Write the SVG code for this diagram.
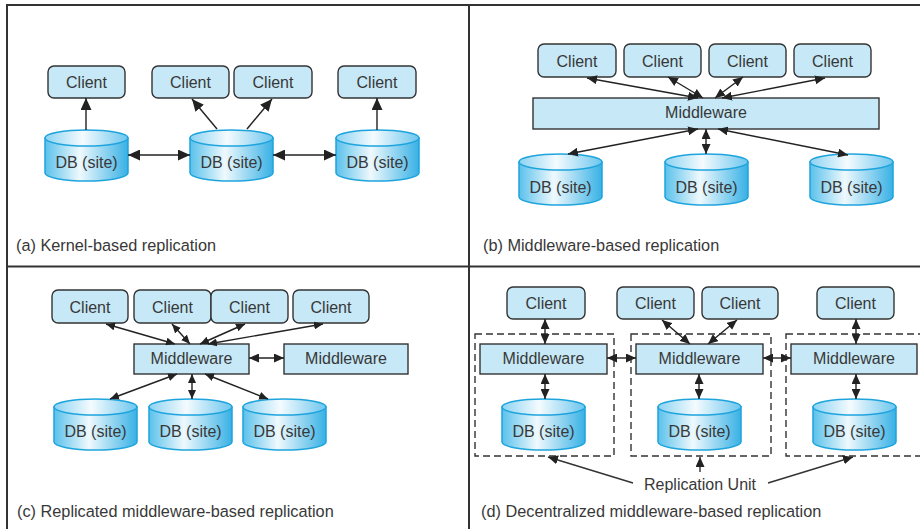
<svg xmlns="http://www.w3.org/2000/svg" xmlns:xlink="http://www.w3.org/1999/xlink" width="920" height="529" viewBox="0 0 920 529">
<style>
text{font-family:"Liberation Sans",Arial,sans-serif;font-size:16px;fill:#383838}
.cap{font-size:16.3px}
.lbl{text-anchor:middle}
.box{fill:#c6e8f7;stroke:#333;stroke-width:1.4}
.frame{stroke:#333;stroke-width:2;fill:none}
.con{stroke:#222;stroke-width:1.4;fill:none}
.dash{stroke:#333;stroke-width:1.4;fill:none;stroke-dasharray:7 4}
.ru{stroke:#333;stroke-width:1.4;fill:none;marker-end:url(#ah)}
</style>
<defs>
<linearGradient id="gb" x1="0" y1="0" x2="1" y2="0">
<stop offset="0" stop-color="#5ac1ec"/><stop offset="0.42" stop-color="#eff9fd"/><stop offset="1" stop-color="#38b1e5"/>
</linearGradient>
<linearGradient id="gt" x1="0" y1="0" x2="1" y2="0">
<stop offset="0" stop-color="#8cd3f2"/><stop offset="0.45" stop-color="#f4fbfe"/><stop offset="1" stop-color="#6cc6ee"/>
</linearGradient>
<g id="cyl">
<path d="M0,8 V43 A41.5,8 0 0 0 83,43 V8 Z" fill="url(#gb)" stroke="#1ea4dd" stroke-width="1.5"/>
<ellipse cx="41.5" cy="8" rx="41.5" ry="8" fill="url(#gt)" stroke="#1ea4dd" stroke-width="1.5"/>
</g>
<marker id="ab" viewBox="0 0 12 11" refX="12" refY="5.5" markerWidth="12" markerHeight="11" markerUnits="userSpaceOnUse" orient="auto-start-reverse"><path d="M0,0 L12,5.5 L0,11 Z" fill="#222"/></marker>
<marker id="ah" viewBox="0 0 10 9" refX="10" refY="4.5" markerWidth="10" markerHeight="9" markerUnits="userSpaceOnUse" orient="auto-start-reverse"><path d="M0,0 L10,4.5 L0,9 Z" fill="#222"/></marker>
<marker id="as" viewBox="0 0 9 8" refX="9" refY="4" markerWidth="9" markerHeight="8" markerUnits="userSpaceOnUse" orient="auto-start-reverse"><path d="M0,0 L9,4 L0,8 Z" fill="#222"/></marker>
</defs>

<g id="frame">
<line class="frame" x1="7" y1="5" x2="920" y2="5"/>
<line class="frame" x1="7" y1="4" x2="7" y2="529"/>
<line class="frame" x1="469" y1="5" x2="469" y2="529"/>
<line class="frame" x1="7" y1="266.5" x2="920" y2="266.5"/>
</g>

<!-- Panel (a) -->
<g id="a-client1"><rect class="box" x="48" y="66" width="77" height="32" rx="6"/><text class="lbl" x="86.5" y="88">Client</text></g>
<g id="a-client2"><rect class="box" x="152" y="66" width="77" height="32" rx="6"/><text class="lbl" x="190.5" y="88">Client</text></g>
<g id="a-client3"><rect class="box" x="234" y="66" width="78" height="32" rx="6"/><text class="lbl" x="273" y="88">Client</text></g>
<g id="a-client4"><rect class="box" x="338" y="66" width="78" height="32" rx="6"/><text class="lbl" x="377" y="88">Client</text></g>
<g id="a-db1"><use xlink:href="#cyl" href="#cyl" x="45" y="130"/><text class="lbl" x="86.5" y="168">DB (site)</text></g>
<g id="a-db2"><use xlink:href="#cyl" href="#cyl" x="190" y="130"/><text class="lbl" x="231.5" y="168">DB (site)</text></g>
<g id="a-db3"><use xlink:href="#cyl" href="#cyl" x="336" y="130"/><text class="lbl" x="377.5" y="168">DB (site)</text></g>
<text id="cap-a" class="cap" x="16" y="251">(a) Kernel-based replication</text>

<!-- Panel (b) -->
<g id="b-client1"><rect class="box" x="538" y="44" width="78" height="33" rx="6"/><text class="lbl" x="577" y="67">Client</text></g>
<g id="b-client2"><rect class="box" x="624" y="44" width="77" height="33" rx="6"/><text class="lbl" x="662.5" y="67">Client</text></g>
<g id="b-client3"><rect class="box" x="709" y="44" width="77" height="33" rx="6"/><text class="lbl" x="747.5" y="67">Client</text></g>
<g id="b-client4"><rect class="box" x="794" y="44" width="77" height="33" rx="6"/><text class="lbl" x="832.5" y="67">Client</text></g>
<g id="b-mw"><rect class="box" x="533" y="98" width="346" height="31"/><text class="lbl" x="706" y="118">Middleware</text></g>
<g id="b-db1"><use xlink:href="#cyl" href="#cyl" x="519" y="154"/><text class="lbl" x="560.5" y="193">DB (site)</text></g>
<g id="b-db2"><use xlink:href="#cyl" href="#cyl" x="665" y="154"/><text class="lbl" x="706.5" y="193">DB (site)</text></g>
<g id="b-db3"><use xlink:href="#cyl" href="#cyl" x="810" y="154"/><text class="lbl" x="851.5" y="193">DB (site)</text></g>
<text id="cap-b" class="cap" x="483" y="251">(b) Middleware-based replication</text>

<!-- Panel (c) -->
<g id="c-client1"><rect class="box" x="52" y="290" width="76" height="33" rx="6"/><text class="lbl" x="90" y="313">Client</text></g>
<g id="c-client2"><rect class="box" x="134" y="290" width="77" height="33" rx="6"/><text class="lbl" x="172.5" y="313">Client</text></g>
<g id="c-client3"><rect class="box" x="211" y="290" width="77" height="33" rx="6"/><text class="lbl" x="249.5" y="313">Client</text></g>
<g id="c-client4"><rect class="box" x="293" y="290" width="76" height="33" rx="6"/><text class="lbl" x="331" y="313">Client</text></g>
<g id="c-mw1"><rect class="box" x="134" y="344" width="115" height="30"/><text class="lbl" x="191.5" y="364">Middleware</text></g>
<g id="c-mw2"><rect class="box" x="284" y="344" width="124" height="30"/><text class="lbl" x="346" y="364">Middleware</text></g>
<g id="c-db1"><use xlink:href="#cyl" href="#cyl" x="54" y="399"/><text class="lbl" x="95.5" y="437">DB (site)</text></g>
<g id="c-db2"><use xlink:href="#cyl" href="#cyl" x="149" y="399"/><text class="lbl" x="190.5" y="437">DB (site)</text></g>
<g id="c-db3"><use xlink:href="#cyl" href="#cyl" x="243" y="399"/><text class="lbl" x="284.5" y="437">DB (site)</text></g>
<text id="cap-c" class="cap" x="17" y="517">(c) Replicated middleware-based replication</text>

<!-- Panel (d) -->
<g id="d-unit1"><rect class="dash" x="475" y="334" width="139" height="122"/></g>
<g id="d-unit2"><rect class="dash" x="631" y="334" width="140" height="122"/></g>
<g id="d-unit3"><rect class="dash" x="786" y="334" width="150" height="122"/></g>
<g id="d-client1"><rect class="box" x="507" y="287" width="78" height="32" rx="6"/><text class="lbl" x="546" y="309">Client</text></g>
<g id="d-client2"><rect class="box" x="617" y="287" width="77" height="32" rx="6"/><text class="lbl" x="655.5" y="309">Client</text></g>
<g id="d-client3"><rect class="box" x="702" y="287" width="76" height="32" rx="6"/><text class="lbl" x="740" y="309">Client</text></g>
<g id="d-client4"><rect class="box" x="817" y="287" width="77" height="32" rx="6"/><text class="lbl" x="855.5" y="309">Client</text></g>
<g id="d-mw1"><rect class="box" x="480" y="344" width="127" height="30"/><text class="lbl" x="543.5" y="364">Middleware</text></g>
<g id="d-mw2"><rect class="box" x="636" y="344" width="127" height="30"/><text class="lbl" x="699.5" y="364">Middleware</text></g>
<g id="d-mw3"><rect class="box" x="791" y="344" width="126" height="30"/><text class="lbl" x="854" y="364">Middleware</text></g>
<g id="d-db1"><use xlink:href="#cyl" href="#cyl" x="502" y="399"/><text class="lbl" x="543.5" y="437">DB (site)</text></g>
<g id="d-db2"><use xlink:href="#cyl" href="#cyl" x="658" y="399"/><text class="lbl" x="699.5" y="437">DB (site)</text></g>
<g id="d-db3"><use xlink:href="#cyl" href="#cyl" x="813" y="399"/><text class="lbl" x="854.5" y="437">DB (site)</text></g>
<g id="d-ru"><text class="lbl" x="700" y="490">Replication Unit</text></g>
<text id="cap-d" class="cap" x="481" y="517">(d) Decentralized middleware-based replication</text>

<g id="connectors">
<!-- a -->
<line class="con" x1="86" y1="130" x2="86" y2="98" marker-end="url(#ab)"/>
<line class="con" x1="217" y1="129" x2="192" y2="99" marker-end="url(#ab)"/>
<line class="con" x1="247" y1="129" x2="272" y2="99" marker-end="url(#ab)"/>
<line class="con" x1="377" y1="130" x2="377" y2="98" marker-end="url(#ab)"/>
<line class="con" x1="128" y1="155" x2="190" y2="155" marker-start="url(#ab)" marker-end="url(#ab)"/>
<line class="con" x1="273" y1="155" x2="336" y2="155" marker-start="url(#ab)" marker-end="url(#ab)"/>
<!-- b -->
<line class="con" x1="587" y1="78" x2="698" y2="98" marker-start="url(#ah)" marker-end="url(#ah)"/>
<line class="con" x1="668" y1="77" x2="703" y2="98" marker-start="url(#ah)" marker-end="url(#ah)"/>
<line class="con" x1="743" y1="77" x2="715" y2="98" marker-start="url(#ah)" marker-end="url(#ah)"/>
<line class="con" x1="825" y1="78" x2="722" y2="98" marker-start="url(#ah)" marker-end="url(#ah)"/>
<line class="con" x1="698" y1="129" x2="568" y2="154" marker-start="url(#ah)" marker-end="url(#ah)"/>
<line class="con" x1="706" y1="129" x2="706" y2="154" marker-start="url(#ah)" marker-end="url(#ah)"/>
<line class="con" x1="718" y1="129" x2="848" y2="155" marker-start="url(#ah)" marker-end="url(#ah)"/>
<!-- c -->
<line class="con" x1="106" y1="324" x2="175" y2="344" marker-start="url(#as)" marker-end="url(#as)"/>
<line class="con" x1="172" y1="324" x2="190" y2="344" marker-start="url(#as)" marker-end="url(#as)"/>
<line class="con" x1="245" y1="324" x2="200" y2="344" marker-start="url(#as)" marker-end="url(#as)"/>
<line class="con" x1="323" y1="324" x2="208" y2="344" marker-start="url(#as)" marker-end="url(#as)"/>
<line class="con" x1="249" y1="358" x2="284" y2="358" marker-start="url(#ah)" marker-end="url(#ah)"/>
<line class="con" x1="177" y1="374" x2="110" y2="399" marker-start="url(#as)" marker-end="url(#as)"/>
<line class="con" x1="192" y1="374" x2="192" y2="399" marker-start="url(#as)" marker-end="url(#as)"/>
<line class="con" x1="205" y1="374" x2="268" y2="399" marker-start="url(#as)" marker-end="url(#as)"/>
<!-- d -->
<line class="con" x1="545" y1="319" x2="545" y2="344" marker-start="url(#ah)" marker-end="url(#ah)"/>
<line class="con" x1="545" y1="374" x2="545" y2="399" marker-start="url(#ah)" marker-end="url(#ah)"/>
<line class="con" x1="662" y1="320" x2="690" y2="344" marker-start="url(#ah)" marker-end="url(#ah)"/>
<line class="con" x1="737" y1="320" x2="708" y2="344" marker-start="url(#ah)" marker-end="url(#ah)"/>
<line class="con" x1="699" y1="374" x2="699" y2="399" marker-start="url(#ah)" marker-end="url(#ah)"/>
<line class="con" x1="856" y1="319" x2="856" y2="344" marker-start="url(#ah)" marker-end="url(#ah)"/>
<line class="con" x1="856" y1="374" x2="856" y2="399" marker-start="url(#ah)" marker-end="url(#ah)"/>
<line class="con" x1="607" y1="358" x2="636" y2="358" marker-start="url(#ah)" marker-end="url(#ah)"/>
<line class="con" x1="763" y1="358" x2="791" y2="358" marker-start="url(#ah)" marker-end="url(#ah)"/>
<line class="ru" x1="633" y1="483" x2="548" y2="457"/>
<line class="ru" x1="700" y1="472" x2="700" y2="457"/>
<line class="ru" x1="768" y1="483" x2="853" y2="457"/>
</g>
</svg>
